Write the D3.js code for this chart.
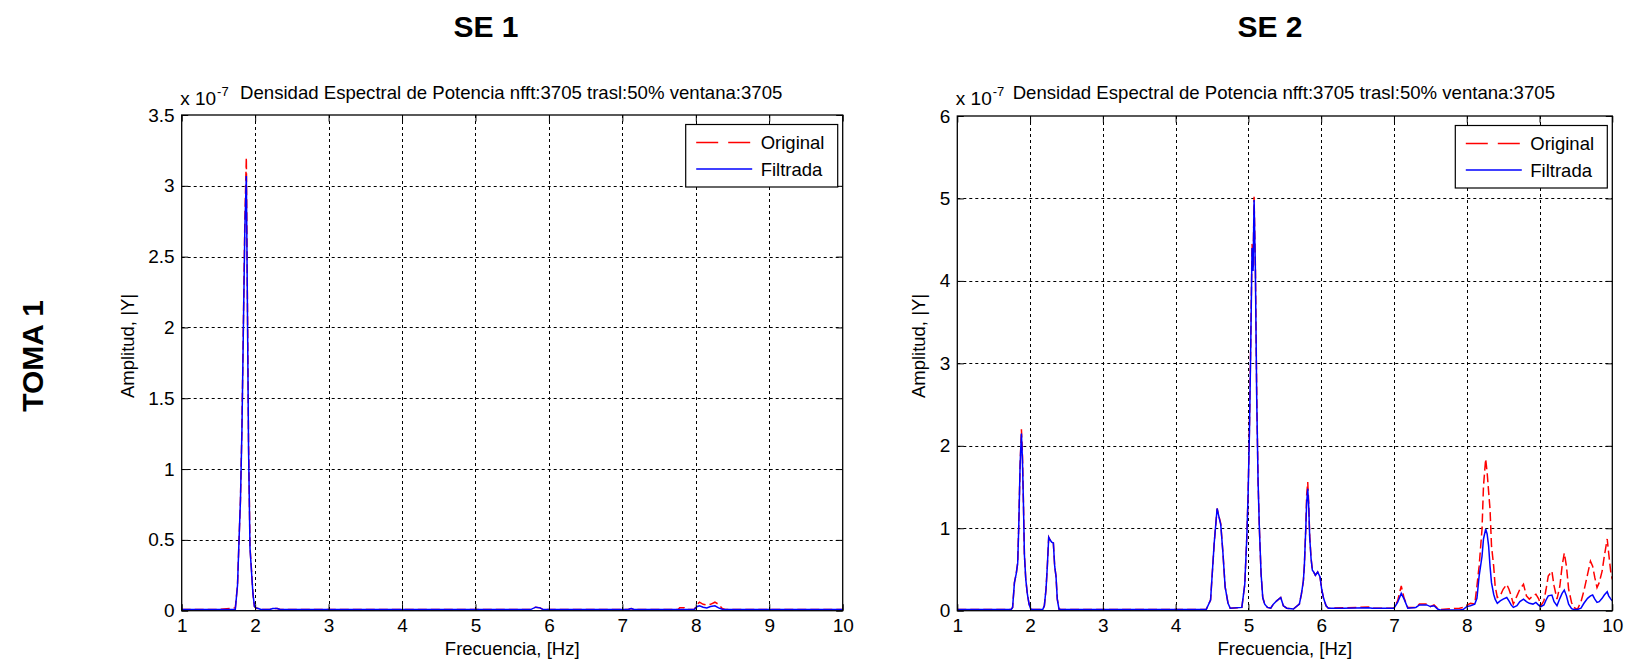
<!DOCTYPE html>
<html>
<head>
<meta charset="utf-8">
<script src="https://cdn.jsdelivr.net/npm/d3@7"></script>
<style>
  html, body { margin: 0; padding: 0; background: #fff; }
  svg { display: block; font-family: "Liberation Sans", Arial, Helvetica, sans-serif; }
</style>
</head>
<body>
<svg id="chart" width="1641" height="667"></svg>
<script>
// ---- texts -------------------------------------------------------------
const columnTitles = ["SE 1", "SE 2"];
const rowTitle = "TOMA 1";
const axisTitle = "Densidad Espectral de Potencia nfft:3705 trasl:50% ventana:3705";
const scaleBase = "x 10";
const scaleExp = "-7";
const xLabel = "Frecuencia, [Hz]";
const yLabel = "Amplitud, |Y|";
const seriesNames = ["Original", "Filtrada"];

// ---- ticks -------------------------------------------------------------
const xTicks = [1, 2, 3, 4, 5, 6, 7, 8, 9, 10];
const se1YTicks = [0, 0.5, 1, 1.5, 2, 2.5, 3, 3.5];
const se2YTicks = [0, 1, 2, 3, 4, 5, 6];

// ---- spectra: [frequency Hz, amplitude x1e-7] ----------------------------
const se1Original = [
  [1.00,0.008],[1.50,0.008],[1.70,0.018],[1.73,0.02],[1.76,0.18],[1.78,0.49],[1.80,0.78],
  [1.82,1.29],[1.84,2.03],[1.86,2.76],[1.88,3.20],[1.89,2.52],[1.91,1.20],[1.93,0.45],
  [1.95,0.29],[1.97,0.12],[1.99,0.03],[2.01,0.02],[2.04,0.015],[2.08,0.008],[2.20,0.008],
  [2.24,0.015],[2.30,0.015],[2.34,0.008],[5.75,0.008],[5.82,0.025],[5.88,0.02],[5.92,0.008],
  [7.08,0.008],[7.12,0.015],[7.16,0.008],[7.76,0.008],[7.78,0.02],[7.84,0.02],[7.86,0.008],
  [7.98,0.01],[8.02,0.045],[8.05,0.06],[8.10,0.045],[8.15,0.04],[8.20,0.045],[8.26,0.06],
  [8.31,0.045],[8.36,0.015],[8.40,0.008],[10.00,0.008]
];
const se1Filtrada = [
  [1.00,0.008],[1.50,0.008],[1.70,0.008],[1.73,0.01],[1.76,0.18],[1.78,0.49],[1.80,0.78],
  [1.82,1.27],[1.84,2.00],[1.86,2.70],[1.88,3.07],[1.89,2.45],[1.91,1.15],[1.93,0.44],
  [1.95,0.28],[1.97,0.12],[1.99,0.03],[2.01,0.02],[2.04,0.015],[2.08,0.008],[2.20,0.008],
  [2.24,0.015],[2.30,0.015],[2.34,0.008],[5.75,0.008],[5.82,0.025],[5.88,0.02],[5.92,0.008],
  [7.08,0.008],[7.12,0.015],[7.16,0.008],[7.98,0.01],[8.02,0.03],[8.05,0.035],[8.10,0.025],
  [8.15,0.02],[8.20,0.03],[8.26,0.035],[8.31,0.02],[8.36,0.01],[8.40,0.008],[10.00,0.008]
];
const se2Original = [
  [1.00,0.015],[1.74,0.015],[1.76,0.04],[1.785,0.34],[1.81,0.45],[1.83,0.58],[1.845,1.06],
  [1.863,1.77],[1.881,2.20],[1.895,1.91],[1.909,1.30],[1.922,0.68],[1.941,0.38],[1.963,0.20],
  [1.986,0.08],[2.009,0.02],[2.03,0.015],[2.174,0.015],[2.196,0.06],[2.219,0.26],[2.237,0.54],
  [2.256,0.89],[2.274,0.86],[2.297,0.83],[2.32,0.82],[2.338,0.54],[2.356,0.42],[2.374,0.14],
  [2.397,0.02],[2.42,0.015],[4.42,0.015],[4.48,0.13],[4.53,0.82],[4.57,1.24],[4.59,1.16],
  [4.62,1.06],[4.65,0.70],[4.68,0.29],[4.72,0.09],[4.75,0.03],[4.91,0.04],[4.95,0.32],
  [4.977,0.87],[4.995,1.38],[5.014,2.21],[5.032,3.26],[5.05,4.45],[5.064,4.15],[5.078,5.02],
  [5.096,4.17],[5.114,2.63],[5.133,1.56],[5.151,0.99],[5.174,0.45],[5.197,0.16],[5.224,0.08],
  [5.261,0.04],[5.307,0.03],[5.343,0.08],[5.389,0.12],[5.444,0.16],[5.48,0.06],[5.527,0.03],
  [5.618,0.02],[5.70,0.08],[5.728,0.20],[5.755,0.36],[5.769,0.55],[5.788,0.99],[5.80,1.40],
  [5.815,1.56],[5.829,1.30],[5.842,0.91],[5.861,0.64],[5.879,0.49],[5.897,0.47],[5.92,0.43],
  [5.952,0.47],[5.984,0.41],[6.007,0.26],[6.03,0.16],[6.067,0.06],[6.099,0.03],[6.30,0.035],
  [6.65,0.045],[6.70,0.03],[7.00,0.03],[7.05,0.12],[7.10,0.30],[7.14,0.15],[7.19,0.04],
  [7.30,0.04],[7.35,0.08],[7.45,0.08],[7.50,0.05],[7.55,0.07],[7.60,0.03],[7.63,0.015],
  [7.90,0.03],[7.95,0.04],[8.00,0.065],[8.05,0.09],[8.11,0.08],[8.14,0.30],[8.17,0.54],
  [8.21,0.99],[8.23,1.51],[8.26,1.84],[8.28,1.68],[8.30,1.45],[8.32,1.23],[8.34,0.79],
  [8.37,0.54],[8.39,0.30],[8.42,0.16],[8.46,0.18],[8.50,0.26],[8.55,0.32],[8.58,0.26],
  [8.61,0.18],[8.64,0.08],[8.69,0.18],[8.73,0.26],[8.78,0.32],[8.82,0.18],[8.86,0.14],
  [8.91,0.18],[8.95,0.20],[8.99,0.14],[9.02,0.06],[9.06,0.12],[9.09,0.26],[9.12,0.42],
  [9.17,0.48],[9.20,0.30],[9.24,0.14],[9.28,0.30],[9.31,0.54],[9.34,0.70],[9.37,0.54],
  [9.40,0.26],[9.44,0.10],[9.47,0.04],[9.52,0.015],[9.57,0.11],[9.61,0.24],[9.66,0.44],
  [9.70,0.60],[9.73,0.54],[9.76,0.40],[9.79,0.28],[9.82,0.34],[9.86,0.48],[9.89,0.66],
  [9.93,0.87],[9.95,0.70],[9.98,0.46],[10.00,0.38]
];
const se2Filtrada = [
  [1.00,0.015],[1.74,0.015],[1.76,0.04],[1.785,0.34],[1.81,0.45],[1.83,0.58],[1.845,1.04],
  [1.863,1.77],[1.881,2.15],[1.895,1.83],[1.909,1.29],[1.922,0.68],[1.941,0.38],[1.963,0.20],
  [1.986,0.08],[2.009,0.02],[2.03,0.015],[2.174,0.015],[2.196,0.06],[2.219,0.26],[2.237,0.54],
  [2.256,0.89],[2.274,0.86],[2.297,0.83],[2.32,0.82],[2.338,0.54],[2.356,0.42],[2.374,0.14],
  [2.397,0.02],[2.42,0.015],[4.42,0.015],[4.48,0.13],[4.53,0.82],[4.57,1.24],[4.59,1.16],
  [4.62,1.04],[4.65,0.70],[4.68,0.29],[4.72,0.09],[4.75,0.03],[4.91,0.04],[4.95,0.32],
  [4.977,0.87],[4.995,1.38],[5.014,2.15],[5.032,3.20],[5.05,4.40],[5.064,4.12],[5.078,4.98],
  [5.096,4.12],[5.114,2.58],[5.133,1.56],[5.151,0.99],[5.174,0.45],[5.197,0.16],[5.224,0.08],
  [5.261,0.04],[5.307,0.03],[5.343,0.08],[5.389,0.12],[5.444,0.16],[5.48,0.06],[5.527,0.03],
  [5.618,0.02],[5.70,0.08],[5.728,0.20],[5.755,0.36],[5.769,0.55],[5.788,0.99],[5.80,1.30],
  [5.815,1.48],[5.829,1.26],[5.842,0.89],[5.861,0.63],[5.879,0.49],[5.897,0.47],[5.92,0.43],
  [5.952,0.47],[5.984,0.41],[6.007,0.26],[6.03,0.16],[6.067,0.06],[6.099,0.03],[6.30,0.03],
  [6.65,0.035],[6.70,0.03],[7.00,0.03],[7.05,0.10],[7.10,0.21],[7.14,0.14],[7.19,0.03],
  [7.30,0.04],[7.35,0.07],[7.45,0.07],[7.50,0.05],[7.55,0.06],[7.60,0.02],[7.63,0.01],
  [7.90,0.01],[7.95,0.015],[8.00,0.05],[8.05,0.06],[8.11,0.08],[8.14,0.15],[8.17,0.42],
  [8.21,0.66],[8.23,0.87],[8.26,0.99],[8.28,0.93],[8.30,0.79],[8.32,0.54],[8.34,0.34],
  [8.37,0.20],[8.39,0.14],[8.42,0.09],[8.46,0.12],[8.50,0.14],[8.55,0.16],[8.58,0.12],
  [8.61,0.07],[8.64,0.04],[8.69,0.06],[8.73,0.11],[8.78,0.14],[8.82,0.11],[8.86,0.09],
  [8.91,0.08],[8.95,0.10],[8.99,0.065],[9.02,0.05],[9.06,0.07],[9.09,0.13],[9.12,0.18],
  [9.17,0.19],[9.20,0.11],[9.24,0.06],[9.28,0.15],[9.31,0.21],[9.34,0.25],[9.37,0.18],
  [9.40,0.08],[9.44,0.025],[9.47,0.015],[9.52,0.015],[9.57,0.03],[9.61,0.09],[9.66,0.15],
  [9.70,0.18],[9.73,0.19],[9.76,0.14],[9.79,0.10],[9.82,0.11],[9.86,0.15],[9.89,0.19],
  [9.93,0.23],[9.95,0.18],[9.98,0.14],[10.00,0.12]
];

// ---- layout --------------------------------------------------------------
const svg = d3.select("#chart");
const TICK_FONT = 19;
const LABEL_FONT = 18.5;
const TITLE_FONT = 18.6;
const colors = { original: "#ff0000", filtrada: "#0000ff" };

const panels = [
  { title: columnTitles[0], titleX: 486, left: 181.7, right: 842.7, top: 115, bottom: 610.7,
    yTicks: se1YTicks, original: se1Original, filtrada: se1Filtrada, yLabelX: 134 },
  { title: columnTitles[1], titleX: 1270, left: 957.3, right: 1612.3, top: 116, bottom: 610.7,
    yTicks: se2YTicks, original: se2Original, filtrada: se2Filtrada, yLabelX: 925 }
];

// row heading at the far left
svg.append("text")
  .attr("transform", "translate(43,356) rotate(-90)")
  .attr("text-anchor", "middle")
  .attr("font-size", 30).attr("font-weight", "bold")
  .text(rowTitle);

panels.forEach((p, i) => {
  const x = d3.scaleLinear().domain([xTicks[0], xTicks[xTicks.length - 1]]).range([p.left, p.right]);
  const y = d3.scaleLinear().domain([0, d3.max(p.yTicks)]).range([p.bottom, p.top]);
  const g = svg.append("g");

  // column heading
  svg.append("text")
    .attr("x", p.titleX).attr("y", 37)
    .attr("text-anchor", "middle")
    .attr("font-size", 30).attr("font-weight", "bold")
    .text(p.title);

  // dotted grid
  const grid = g.append("g").attr("stroke", "#000").attr("stroke-width", 1)
    .attr("stroke-dasharray", "3,3");
  grid.selectAll("line.v").data(xTicks.slice(1, -1)).join("line")
    .attr("x1", d => Math.round(x(d)) + 0.5).attr("x2", d => Math.round(x(d)) + 0.5)
    .attr("y1", p.top).attr("y2", p.bottom);
  grid.selectAll("line.h").data(p.yTicks.slice(1, -1)).join("line")
    .attr("y1", d => Math.round(y(d)) + 0.5).attr("y2", d => Math.round(y(d)) + 0.5)
    .attr("x1", p.left).attr("x2", p.right);

  // clip for the traces
  const clipId = "clip" + i;
  svg.append("defs").append("clipPath").attr("id", clipId)
    .append("rect").attr("x", p.left).attr("y", p.top)
    .attr("width", p.right - p.left).attr("height", p.bottom - p.top);

  const line = d3.line().x(d => x(d[0])).y(d => y(d[1]));
  const traces = g.append("g").attr("clip-path", `url(#${clipId})`).attr("fill", "none");
  traces.append("path").datum(p.original)
    .attr("d", line).attr("stroke", colors.original).attr("stroke-width", 1.5)
    .attr("stroke-dasharray", "9,4");
  traces.append("path").datum(p.filtrada)
    .attr("d", line).attr("stroke", colors.filtrada).attr("stroke-width", 1.5);

  // axes with inward ticks on all four sides
  const tick = 6.5;
  const axisStyle = sel => {
    sel.attr("font-family", null);
    sel.select(".domain").remove();
    sel.selectAll("line").attr("stroke", "#000");
    sel.selectAll("text").attr("font-size", TICK_FONT).attr("fill", "#000");
  };
  g.append("g").attr("transform", `translate(0,${p.bottom})`)
    .call(d3.axisBottom(x).tickValues(xTicks).tickSize(-tick).tickPadding(8).tickFormat(d3.format("d")))
    .call(axisStyle);
  g.append("g").attr("transform", `translate(0,${p.top})`)
    .call(d3.axisTop(x).tickValues(xTicks).tickSize(-tick).tickFormat(""))
    .call(axisStyle);
  g.append("g").attr("transform", `translate(${p.left},0)`)
    .call(d3.axisLeft(y).tickValues(p.yTicks).tickSize(-tick).tickPadding(7).tickFormat(d3.format("~g")))
    .call(axisStyle);
  g.append("g").attr("transform", `translate(${p.right},0)`)
    .call(d3.axisRight(y).tickValues(p.yTicks).tickSize(-tick).tickFormat(""))
    .call(axisStyle);

  // box
  g.append("rect").attr("x", p.left).attr("y", p.top)
    .attr("width", p.right - p.left).attr("height", p.bottom - p.top)
    .attr("fill", "none").attr("stroke", "#000").attr("stroke-width", 1.3);

  // axis title and exponent
  g.append("text")
    .attr("x", (p.left + p.right) / 2 - 1).attr("y", 99)
    .attr("text-anchor", "middle").attr("font-size", TITLE_FONT)
    .text(axisTitle);
  const ex = g.append("text").attr("x", p.left - 1.5).attr("y", 105).attr("font-size", TICK_FONT);
  ex.append("tspan").text(scaleBase);
  ex.append("tspan").attr("font-size", 13).attr("dy", -9).attr("dx", 1).text(scaleExp);

  // axis labels
  g.append("text")
    .attr("x", (p.left + p.right) / 2).attr("y", 655)
    .attr("text-anchor", "middle").attr("font-size", LABEL_FONT)
    .text(xLabel);
  g.append("text")
    .attr("transform", `translate(${p.yLabelX},346) rotate(-90)`)
    .attr("text-anchor", "middle").attr("font-size", LABEL_FONT)
    .text(yLabel);

  // legend
  const lw = 152, lh = 62.5;
  const lx = p.right - 5 - lw, ly = p.top + 9.5;
  const leg = g.append("g");
  leg.append("rect").attr("x", lx).attr("y", ly).attr("width", lw).attr("height", lh)
    .attr("fill", "#fff").attr("stroke", "#000").attr("stroke-width", 1.2);
  const rows = [
    { name: seriesNames[0], color: colors.original, dash: "22,10", dy: 18 },
    { name: seriesNames[1], color: colors.filtrada, dash: null, dy: 44.5 }
  ];
  rows.forEach(r => {
    leg.append("line")
      .attr("x1", lx + 10.5).attr("x2", lx + 66.5)
      .attr("y1", ly + r.dy).attr("y2", ly + r.dy)
      .attr("stroke", r.color).attr("stroke-width", 1.4)
      .attr("stroke-dasharray", r.dash);
    leg.append("text")
      .attr("x", lx + 75).attr("y", ly + r.dy + 6.5)
      .attr("font-size", LABEL_FONT)
      .text(r.name);
  });
});
</script>
</body>
</html>
